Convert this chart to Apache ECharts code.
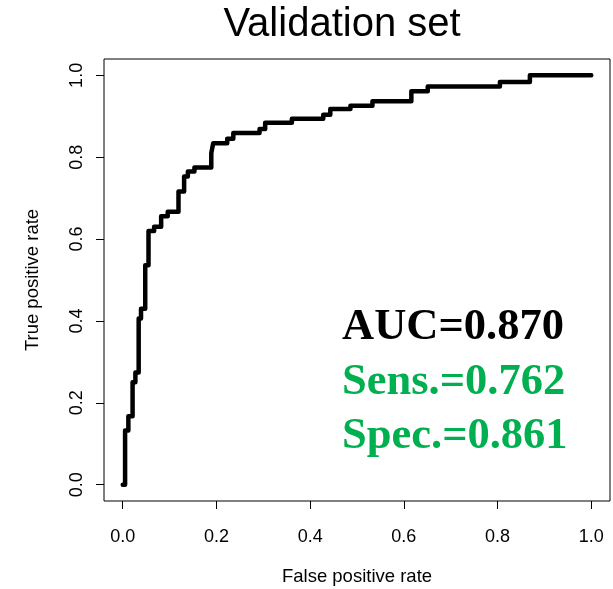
<!DOCTYPE html>
<html>
<head>
<meta charset="utf-8">
<script src="https://cdn.jsdelivr.net/npm/echarts@6/dist/echarts.min.js"></script>
<style>html,body{margin:0;padding:0;background:#fff;}#c{width:613px;height:589px;}</style>
</head>
<body>
<div id="c"></div>
<script>
var fpr = [0, 0.005, 0.005, 0.012, 0.012, 0.021, 0.021, 0.027, 0.027, 0.034, 0.034, 0.039, 0.039, 0.048, 0.048, 0.055, 0.055, 0.067, 0.067, 0.082, 0.082, 0.096, 0.096, 0.119, 0.119, 0.131, 0.131, 0.139, 0.139, 0.153, 0.153, 0.189, 0.189, 0.193, 0.193, 0.223, 0.223, 0.236, 0.236, 0.292, 0.292, 0.304, 0.304, 0.361, 0.361, 0.428, 0.428, 0.443, 0.443, 0.486, 0.486, 0.533, 0.533, 0.616, 0.616, 0.651, 0.651, 0.805, 0.805, 0.869, 0.869, 1.0];
var tpr = [0, 0, 0.132, 0.132, 0.167, 0.167, 0.250, 0.250, 0.274, 0.274, 0.406, 0.406, 0.430, 0.430, 0.536, 0.536, 0.620, 0.620, 0.630, 0.630, 0.656, 0.656, 0.667, 0.667, 0.716, 0.716, 0.753, 0.753, 0.765, 0.765, 0.775, 0.775, 0.810, 0.810, 0.834, 0.834, 0.845, 0.845, 0.859, 0.859, 0.869, 0.869, 0.884, 0.884, 0.894, 0.894, 0.904, 0.904, 0.918, 0.918, 0.926, 0.926, 0.937, 0.937, 0.961, 0.961, 0.973, 0.973, 0.984, 0.984, 1.0, 1.0];
var tickValues = [0, 0.2, 0.4, 0.6, 0.8, 1.0];
var titleText = 'Validation set';
var xTitle = 'False positive rate';
var yTitle = 'True positive rate';
var statLines = ['AUC=0.870', 'Sens.=0.762', 'Spec.=0.861'];
var statColors = ['#000000', '#00B050', '#00B050'];

var data = fpr.map(function (x, i) { return [x, tpr[i]]; });
var chart = echarts.init(document.getElementById('c'), null, {renderer: 'canvas'});
var sans = '"Liberation Sans", Arial, Helvetica, sans-serif';
function makeAxis(labelExtra) {
  return {
    type: 'value', min: -0.04, max: 1.04,
    axisLine: {show: false, onZero: false},
    splitLine: {show: false},
    axisTick: {show: true, inside: false, length: 8, customValues: tickValues, lineStyle: {color: '#000', width: 1}},
    axisLabel: echarts.util.extend({customValues: tickValues, color: '#000', fontFamily: sans, fontSize: 18,
      formatter: function (v) { return v.toFixed(1); }}, labelExtra)
  };
}
var graphics = [
  {type: 'text', x: 342, y: 25, style: {text: titleText, fill: '#000', font: '40px ' + sans, textAlign: 'center', textVerticalAlign: 'middle'}},
  {type: 'text', x: 357, y: 577, style: {text: xTitle, fill: '#000', font: '18.5px ' + sans, textAlign: 'center', textVerticalAlign: 'middle'}},
  {type: 'text', x: 33, y: 280, rotation: Math.PI / 2, style: {text: yTitle, fill: '#000', font: '18.5px ' + sans, textAlign: 'center', textVerticalAlign: 'middle'}}
];
var centers = [327, 382, 436];
statLines.forEach(function (t, i) {
  graphics.push({type: 'text', x: 342, y: centers[i], style: {text: t, fill: statColors[i], font: 'bold 44.5px "Liberation Serif", "Times New Roman", serif', textAlign: 'left', textVerticalAlign: 'middle'}});
});
chart.setOption({
  animation: false,
  backgroundColor: '#fff',
  grid: {left: 104, top: 59, width: 506, height: 442, show: true, borderColor: '#000', borderWidth: 1, backgroundColor: 'transparent'},
  xAxis: makeAxis({margin: 27}),
  yAxis: makeAxis({rotate: 90, margin: 18}),
  series: [{
    type: 'line', data: data, showSymbol: false, symbol: 'none',
    lineStyle: {color: '#000', width: 4.5, cap: 'round', join: 'round'}
  }],
  graphic: graphics
});
</script>
</body>
</html>
